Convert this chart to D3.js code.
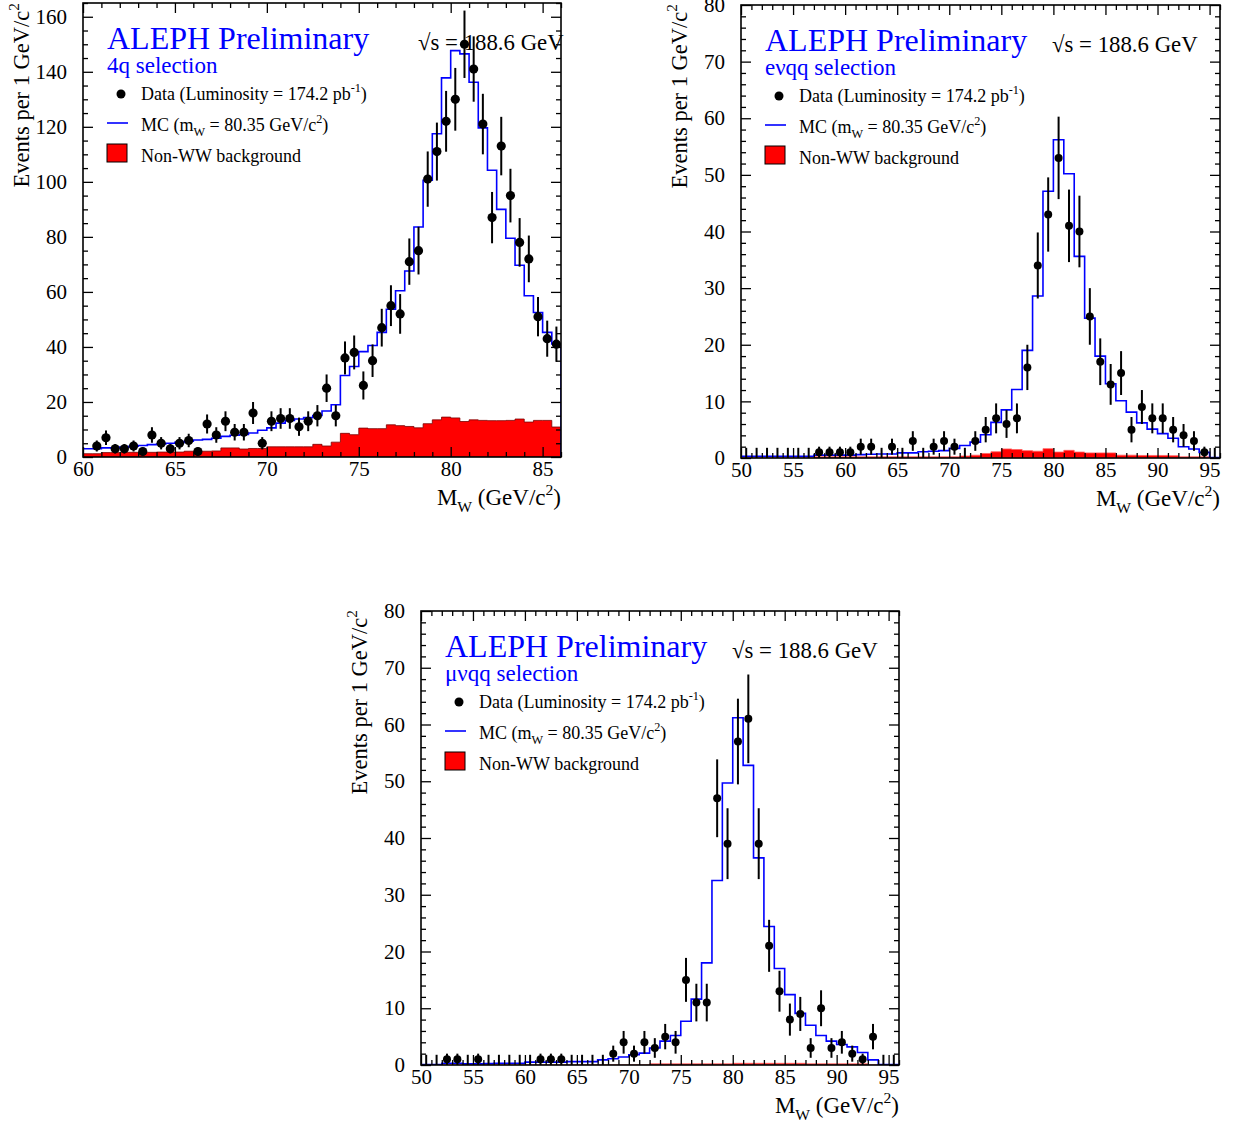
<!DOCTYPE html>
<html>
<head>
<meta charset="utf-8">
<script src="https://cdn.jsdelivr.net/npm/d3@7"></script>
<style>
  html, body { margin: 0; padding: 0; background: #fff; }
  svg text { font-family: "Liberation Serif", "Times New Roman", serif; }
</style>
</head>
<body>
<svg id="chart" width="1235" height="1122"></svg>
<script>
// ---------------- DATA ----------------
// 4q selection: 0.5 GeV bins from 60 to 86
const fourqBinLow = 60, fourqBinWidth = 0.5;
const fourqData = [null, 4, 7, 3, 3, 4, 2, 8, 5, 3, 5, 6, 2, 12, 8, 13, 9, 9, 16, 5, 13, 14, 14, 11, 13, 15, 25, 15, 36, 38, 26, 35, 47, 55, 52, 71, 75, 101, 111, 122, 130, 150, 141, 121, 87, 113, 95, 78, 72, 51, 43, 41];
const fourqMC = [3.0, 3.0, 3.3, 3.3, 3.6, 3.9, 4.2, 4.5, 4.7, 5.0, 5.3, 5.7, 6.2, 6.4, 6.8, 7.5, 7.9, 8.2, 8.7, 9.7, 10.6, 12.3, 13.3, 13.8, 14.3, 15.1, 16.7, 19.0, 29.6, 32.9, 38.3, 40.5, 45.3, 53.7, 60.4, 67.6, 83.6, 100.6, 117.5, 137.8, 147.7, 146.5, 136.2, 119.6, 104.2, 90.0, 79.5, 69.7, 58.6, 52.5, 45.3, 41.1];
const fourqBkg = [1.2, 1.2, 1.6, 1.6, 1.7, 1.7, 1.7, 1.7, 1.8, 1.8, 1.8, 2.1, 2.1, 2.1, 2.2, 3.3, 3.3, 2.9, 3.1, 3.1, 3.7, 3.7, 3.7, 3.7, 3.7, 4.6, 4.0, 5.4, 8.6, 8.1, 10.5, 10.3, 10.3, 11.7, 11.4, 11.1, 10.6, 12.1, 13.5, 14.5, 14.2, 12.9, 13.5, 13.3, 13.2, 13.2, 13.3, 13.8, 12.7, 13.3, 13.3, 10.9];

// e nu q q selection: 1 GeV bins from 50 to 96
const enuBinLow = 50, enuBinWidth = 1;
const enuData = [0, 0, 0, 0, 0, 0, 0, 1, 1, 1, 1, 2, 2, 0, 2, 0, 3, 0, 2, 3, 2, 0, 3, 5, 7, 6, 7, 16, 34, 43, 53, 41, 40, 25, 17, 13, 15, 5, 9, 7, 7, 5, 4, 3, 1, 0];
const enuMC = [0.3, 0.3, 0.3, 0.3, 0.3, 0.3, 0.3, 0.5, 0.5, 0.5, 0.5, 0.6, 0.65, 0.7, 0.7, 0.9, 0.9, 1.1, 1.2, 1.3, 1.7, 2.2, 2.8, 4.1, 6.3, 8.5, 12.1, 19.0, 28.6, 47.1, 56.2, 50.2, 35.6, 24.7, 18.0, 13.1, 10.1, 8.1, 6.2, 5.1, 4.3, 3.5, 2.0, 1.6, 1.0, 0.1];
const enuBkg = [0, 0, 0, 0, 0, 0, 0, 0.2, 0.2, 0.2, 0.2, 0.2, 0.2, 0.2, 0.2, 0.2, 0.2, 0.2, 0.2, 0.2, 0.2, 0.35, 0.5, 0.8, 1.1, 1.6, 1.5, 1.3, 1.2, 1.65, 1.05, 1.35, 1.05, 0.9, 0.9, 0.9, 0.5, 0.5, 0.45, 0.45, 0.45, 0.4, 0.2, 0.2, 0.2, 0];

// mu nu q q selection: 1 GeV bins from 50 to 96
const munuBinLow = 50, munuBinWidth = 1;
const munuData = [0, 0, 1, 1, 0, 1, 0, 0, 0, 0, 0, 1, 1, 1, 0, 0, 0, 0, 2, 4, 2, 4, 3, 5, 4, 15, 11, 11, 47, 39, 57, 61, 39, 21, 13, 8, 9, 3, 10, 3, 4, 2, 1, 5, 0, 0];
const munuMC = [0.1, 0.1, 0.3, 0.3, 0.2, 0.2, 0.25, 0.3, 0.3, 0.3, 0.5, 0.5, 0.5, 0.5, 0.6, 0.6, 0.6, 0.9, 1.1, 1.4, 1.8, 2.1, 3.0, 4.2, 5.2, 7.7, 11.6, 18.0, 32.5, 49.7, 61.2, 52.8, 36.5, 24.4, 17.0, 12.4, 9.1, 7.0, 5.2, 4.2, 3.6, 3.2, 2.2, 0.9, 0.1, 0.1];
const munuBkg = [0, 0, 0, 0, 0, 0, 0, 0, 0, 0, 0, 0, 0, 0, 0, 0, 0, 0, 0, 0, 0, 0, 0.2, 0.2, 0.2, 0.2, 0.2, 0.2, 0.2, 0.2, 0.3, 0.3, 0.3, 0.3, 0.3, 0.3, 0.3, 0.2, 0.2, 0.2, 0.2, 0.2, 0.2, 0, 0, 0];

// tick labels / texts
const yTitle = ["Events per 1 GeV/c", "2"];
const xTitleParts = [["M", ""], ["W", "sub"], [" (GeV/c", ""], ["2", "sup"], [")", ""]];
const titleText = "ALEPH Preliminary";
const sqrtsText = "\u221As = 188.6 GeV";
const selections = ["4q selection", "e\u03BDqq selection", "\u03BC\u03BDqq selection"];
const dataLegend = [["Data (Luminosity = 174.2 pb", ""], ["-1", "sup"], [")", ""]];
const dataLegend2 = [["Data  (Luminosity = 174.2 pb", ""], ["-1", "sup"], [")", ""]];
const mcLegend = [["MC (m", ""], ["W", "sub"], [" = 80.35 GeV/c", ""], ["2", "sup"], [")", ""]];
const bkgLegend = "Non-WW background";

// ---------------- LAYOUT ----------------
const panels = [
  { x0: 83, x1: 561, y0: 3, y1: 457, xdom: [60, 86], ydom: [0, 165], yMaj: 20, yMin: 5,
    low: fourqBinLow, bw: fourqBinWidth, data: fourqData, mc: fourqMC, bkg: fourqBkg,
    sel: selections[0], legData: dataLegend, sqrtsX: 418, r: 4.6, zeroBars: false, bkgStroke: "#7a0000" },
  { x0: 741, x1: 1220, y0: 5, y1: 458, xdom: [50, 96], ydom: [0, 80], yMaj: 10, yMin: 2,
    low: enuBinLow, bw: enuBinWidth, data: enuData, mc: enuMC, bkg: enuBkg,
    sel: selections[1], legData: dataLegend2, sqrtsX: 1052, r: 4, zeroBars: true, bkgStroke: "#ff6060" },
  { x0: 421, x1: 899, y0: 611, y1: 1065, xdom: [50, 96], ydom: [0, 80], yMaj: 10, yMin: 2,
    low: munuBinLow, bw: munuBinWidth, data: munuData, mc: munuMC, bkg: munuBkg,
    sel: selections[2], legData: dataLegend2, sqrtsX: 732, r: 4, zeroBars: true, bkgStroke: "#ff6060" }
];

const svg = d3.select("#chart");

function richText(sel, parts, fs) {
  let shift = 0;
  parts.forEach(([t, kind]) => {
    const ts = sel.append("tspan").text(t);
    let target = 0;
    if (kind === "sup") { target = -0.45 * fs; ts.attr("font-size", fs * 0.68); }
    else if (kind === "sub") { target = 0.3 * fs; ts.attr("font-size", fs * 0.68); }
    else { ts.attr("font-size", fs); }
    ts.attr("dy", target - shift);
    shift = target;
  });
}

panels.forEach((p, pi) => {
  const x = d3.scaleLinear().domain(p.xdom).range([p.x0, p.x1]);
  const y = d3.scaleLinear().domain(p.ydom).range([p.y1, p.y0]);
  const g = svg.append("g");
  const clipId = "clip" + pi;
  svg.append("clipPath").attr("id", clipId).append("rect")
    .attr("x", p.x0).attr("y", p.y0).attr("width", p.x1 - p.x0).attr("height", p.y1 - p.y0);

  const n = p.mc.length;
  const edges = d3.range(n + 1).map(i => p.low + i * p.bw);

  // background (filled step histogram)
  const bkgPts = [];
  p.bkg.forEach((v, i) => { bkgPts.push([edges[i], v]); bkgPts.push([edges[i + 1], v]); });
  const area = d3.area().x(d => x(d[0])).y0(y(0)).y1(d => y(d[1]));
  g.append("path").datum(bkgPts).attr("d", area)
    .attr("fill", "#ff0000").attr("stroke", p.bkgStroke).attr("stroke-width", 0.8)
    .attr("clip-path", `url(#${clipId})`);

  // MC step histogram
  const mcPts = [[edges[0], p.mc[0]]];
  p.mc.forEach((v, i) => { mcPts.push([edges[i], v]); mcPts.push([edges[i + 1], v]); });
  mcPts.push([edges[n], 0]);
  const line = d3.line().x(d => x(d[0])).y(d => y(d[1]));
  g.append("path").datum(mcPts).attr("d", line)
    .attr("fill", "none").attr("stroke", "#0000ff").attr("stroke-width", 1.6)
    .attr("clip-path", `url(#${clipId})`);

  // Axes
  const yMajors = d3.range(p.ydom[0], p.ydom[1] + 0.001, p.yMaj);
  const yMinors = d3.range(p.ydom[0], p.ydom[1] + 0.001, p.yMin).filter(v => v % p.yMaj !== 0);
  const xMajors = d3.range(Math.ceil(p.xdom[0] / 5) * 5, p.xdom[1] + 0.001, 5);
  const xMinors = d3.range(p.xdom[0], p.xdom[1] + 0.001, 1).filter(v => v % 5 !== 0);

  const styleAxis = sel => {
    sel.select(".domain").remove();
    sel.selectAll(".tick line").attr("stroke", "#000").attr("stroke-width", 1.3);
    sel.selectAll(".tick text").attr("font-size", 21).attr("fill", "#000")
      .attr("font-family", "Liberation Serif, serif");
  };
  g.append("g").attr("transform", `translate(${p.x0},0)`)
    .call(d3.axisLeft(y).tickValues(yMajors).tickSize(-10).tickPadding(16).tickFormat(d3.format("d"))).call(styleAxis);
  g.append("g").attr("transform", `translate(${p.x0},0)`)
    .call(d3.axisLeft(y).tickValues(yMinors).tickSize(-5).tickFormat("")).call(styleAxis);
  g.append("g").attr("transform", `translate(${p.x1},0)`)
    .call(d3.axisRight(y).tickValues(yMajors).tickSize(-10).tickFormat("")).call(styleAxis);
  g.append("g").attr("transform", `translate(${p.x1},0)`)
    .call(d3.axisRight(y).tickValues(yMinors).tickSize(-5).tickFormat("")).call(styleAxis);
  g.append("g").attr("transform", `translate(0,${p.y1})`)
    .call(d3.axisBottom(x).tickValues(xMajors).tickSize(-10).tickPadding(4).tickFormat(d3.format("d"))).call(styleAxis);
  g.append("g").attr("transform", `translate(0,${p.y1})`)
    .call(d3.axisBottom(x).tickValues(xMinors).tickSize(-5).tickFormat("")).call(styleAxis);
  g.append("g").attr("transform", `translate(0,${p.y0})`)
    .call(d3.axisTop(x).tickValues(xMajors).tickSize(-10).tickFormat("")).call(styleAxis);
  g.append("g").attr("transform", `translate(0,${p.y0})`)
    .call(d3.axisTop(x).tickValues(xMinors).tickSize(-5).tickFormat("")).call(styleAxis);

  // frame
  g.append("rect").attr("x", p.x0).attr("y", p.y0).attr("width", p.x1 - p.x0).attr("height", p.y1 - p.y0)
    .attr("fill", "none").attr("stroke", "#000").attr("stroke-width", 1.6);

  // axis titles
  const yt = g.append("text").attr("text-anchor", "end")
    .attr("transform", `translate(${p.x0 - 54},${Math.max(p.y0 - 1, 3)}) rotate(-90)`).attr("fill", "#000");
  richText(yt, [[yTitle[0], ""], [yTitle[1], "sup"]], 22.5);
  const xt = g.append("text").attr("text-anchor", "end").attr("x", p.x1).attr("y", p.y1 + 48).attr("fill", "#000");
  richText(xt, xTitleParts, 23);

  // titles
  g.append("text").attr("x", p.x0 + 24).attr("y", p.y0 + 46).attr("fill", "#0000ff")
    .attr("font-size", 32).text(titleText);
  g.append("text").attr("x", p.x0 + 24).attr("y", p.y0 + 70).attr("fill", "#0000ff")
    .attr("font-size", 23).text(p.sel);
  g.append("text").attr("x", p.sqrtsX).attr("y", p.y0 + 47).attr("fill", "#000")
    .attr("font-size", 22.8).text(sqrtsText);

  // legend
  g.append("circle").attr("cx", p.x0 + 38).attr("cy", p.y0 + 91).attr("r", 4.5).attr("fill", "#000");
  const l1 = g.append("text").attr("x", p.x0 + 58).attr("y", p.y0 + 97).attr("fill", "#000");
  richText(l1, p.legData, 18);
  g.append("line").attr("x1", p.x0 + 24).attr("x2", p.x0 + 45).attr("y1", p.y0 + 120).attr("y2", p.y0 + 120)
    .attr("stroke", "#0000ff").attr("stroke-width", 1.6);
  const l2 = g.append("text").attr("x", p.x0 + 58).attr("y", p.y0 + 128).attr("fill", "#000");
  richText(l2, mcLegend, 18);
  g.append("rect").attr("x", p.x0 + 24).attr("y", p.y0 + 141).attr("width", 20).attr("height", 18)
    .attr("fill", "#ff0000").attr("stroke", "#000").attr("stroke-width", 1);
  g.append("text").attr("x", p.x0 + 58).attr("y", p.y0 + 159).attr("fill", "#000")
    .attr("font-size", 18).text(bkgLegend);

  // data points with sqrt(N) error bars
  const pts = p.data.map((v, i) => ({ m: p.low + (i + 0.5) * p.bw, v: v }))
    .filter(d => d.v !== null && (d.v > 0 || p.zeroBars));
  const dg = g.append("g").attr("clip-path", `url(#${clipId})`);
  dg.selectAll("line.err").data(pts).join("line").attr("class", "err")
    .attr("x1", d => x(d.m)).attr("x2", d => x(d.m))
    .attr("y1", d => y(d.v > 0 ? d.v - Math.sqrt(d.v) : 0))
    .attr("y2", d => y(d.v > 0 ? d.v + Math.sqrt(d.v) : 1.8))
    .attr("stroke", "#000").attr("stroke-width", 2);
  dg.selectAll("circle.pt").data(pts.filter(d => d.v > 0)).join("circle").attr("class", "pt")
    .attr("cx", d => x(d.m)).attr("cy", d => y(d.v)).attr("r", p.r).attr("fill", "#000");
});
</script>
</body>
</html>
